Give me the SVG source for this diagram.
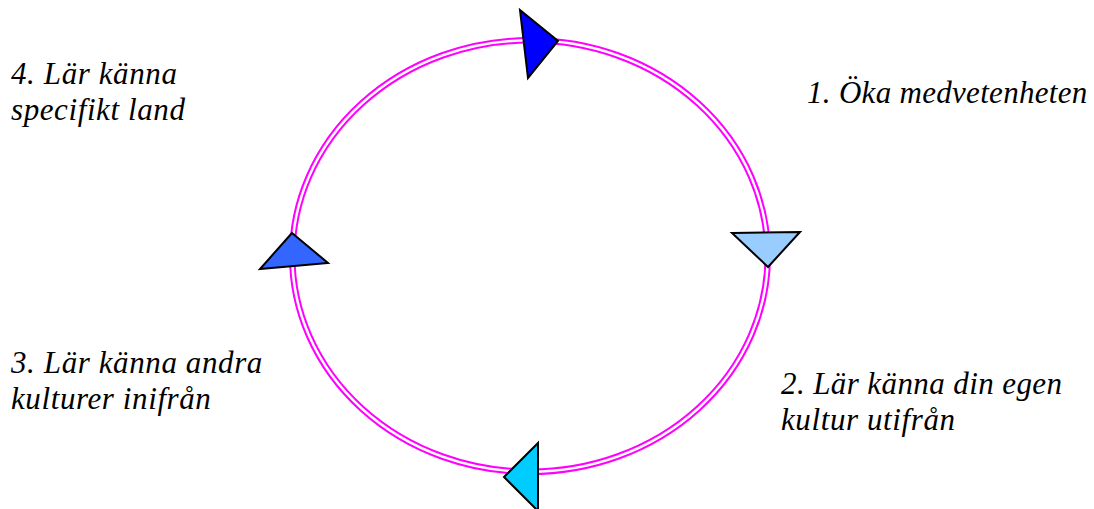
<svg xmlns="http://www.w3.org/2000/svg" width="1094" height="509" viewBox="0 0 1094 509">
<style>
.ring{fill:none;stroke:#FF00FF;stroke-width:2}
.tri{stroke:#000;stroke-width:2;stroke-linejoin:miter}
</style>
<rect width="1094" height="509" fill="#fff"/>
<g id="connectors">
<ellipse class="ring" cx="530" cy="256" rx="240" ry="218"/>
<ellipse class="ring" cx="530" cy="256" rx="235.5" ry="213.5"/>
</g>
<g id="arrow-top"><polygon class="tri" fill="#0000FF" points="520,10 558,41 528,78"/></g>
<g id="arrow-right"><polygon class="tri" fill="#99CCFF" points="732,233 800,232 768,267"/></g>
<g id="arrow-bottom"><polygon class="tri" fill="#00CCFF" points="538,443 504,477 538,511"/></g>
<g id="arrow-left"><polygon class="tri" fill="#3366FF" points="292,233 328,263 260,269"/></g>
<g id="label-1"><text x="807" y="103" font-family="Liberation Serif" font-style="italic" font-size="31" letter-spacing="0.3">1. Öka medvetenheten</text></g>
<g id="label-2"><text x="781" y="394" font-family="Liberation Serif" font-style="italic" font-size="31" letter-spacing="0.4">2. Lär känna din egen</text><text x="781" y="430" font-family="Liberation Serif" font-style="italic" font-size="31" letter-spacing="0.6">kultur utifrån</text></g>
<g id="label-3"><text x="11" y="373" font-family="Liberation Serif" font-style="italic" font-size="31" letter-spacing="0.6">3. Lär känna andra</text><text x="11" y="409" font-family="Liberation Serif" font-style="italic" font-size="31" letter-spacing="0.6">kulturer inifrån</text></g>
<g id="label-4"><text x="11" y="84" font-family="Liberation Serif" font-style="italic" font-size="31" letter-spacing="0.6">4. Lär känna</text><text x="11" y="120" font-family="Liberation Serif" font-style="italic" font-size="31" letter-spacing="0.6">specifikt land</text></g>
</svg>
